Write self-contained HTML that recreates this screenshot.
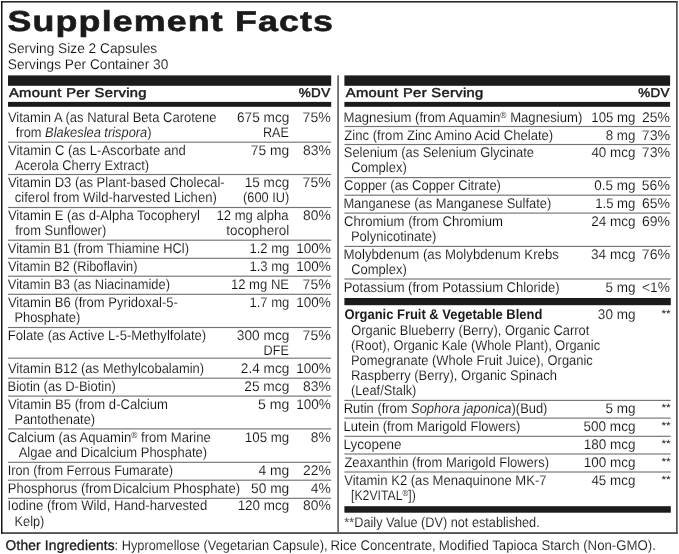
<!DOCTYPE html>
<html lang="en"><head><meta charset="utf-8"><title>Supplement Facts</title>
<style>
html,body{margin:0;padding:0;background:#fff;width:679px;height:554px;overflow:hidden;}
body{width:679px;height:554px;position:relative;overflow:hidden;font-family:"Liberation Sans",sans-serif;color:#2e2e2e;}
svg.ln{position:absolute;left:0;top:0;}
.x{position:absolute;white-space:nowrap;transform-origin:0 0;text-rendering:geometricPrecision;}
.title{font-weight:bold;font-size:28.8px;line-height:44px;height:44px;color:#1a1a1a;letter-spacing:0.9px;-webkit-text-stroke:0.6px #1a1a1a;}
.sv{font-size:14px;line-height:24px;height:24px;color:#111;-webkit-text-stroke:0.12px #fff;}
.hd{font-size:12.8px;line-height:24px;height:24px;color:#1a1a1a;-webkit-text-stroke:0.47px #1a1a1a;letter-spacing:0.3px;}
.t,.st{font-size:14px;line-height:24px;height:24px;color:#111;-webkit-text-stroke:0.12px #fff;}
.b{font-weight:bold;font-size:14px;line-height:24px;height:24px;color:#1a1a1a;}
.ob{font-size:14px;line-height:16px;height:16px;color:#1a1a1a;-webkit-text-stroke:0.33px #1a1a1a;letter-spacing:0.2px;}
.ts{letter-spacing:-2.2px;}
.tb{font-size:14px;line-height:16px;height:16px;color:#111;-webkit-text-stroke:0.12px #fff;}
sup{font-size:64%;line-height:0;vertical-align:baseline;position:relative;top:-0.42em;-webkit-text-stroke:0;color:#3a3a3a;}
.st{font-size:10.5px;-webkit-text-stroke:0;color:#222;}
</style></head>
<body>
<svg class="ln" width="679" height="554" viewBox="0 0 679 554" ><rect x="1" y="1" width="676.8" height="1.6" fill="#2a2a2a"/><rect x="1" y="532.3" width="676.8" height="1.5" fill="#2a2a2a"/><rect x="1" y="1" width="1.5" height="532.8" fill="#161616"/><rect x="676" y="1" width="1.7" height="532.8" fill="#555"/><rect x="337.3" y="75.3" width="1.6" height="457.2" fill="#5a5a5a"/><rect x="8" y="75.4" width="323.2" height="10.4" fill="#1c1c1c"/><rect x="344.4" y="75.4" width="325.7" height="10.4" fill="#1c1c1c"/><rect x="8" y="101.9" width="323.2" height="4.9" fill="#1c1c1c"/><rect x="344.4" y="101.9" width="325.7" height="4.9" fill="#1c1c1c"/><rect x="344.4" y="298" width="326.4" height="7.2" fill="#1c1c1c"/><rect x="344.4" y="506.2" width="326.4" height="6.5" fill="#1c1c1c"/><rect x="8" y="141.62" width="323.2" height="1.15" fill="#747474"/><rect x="8" y="173.93" width="323.2" height="1.15" fill="#747474"/><rect x="8" y="206.93" width="323.2" height="1.15" fill="#747474"/><rect x="8" y="239.62" width="323.2" height="1.15" fill="#747474"/><rect x="8" y="257.73" width="323.2" height="1.15" fill="#747474"/><rect x="8" y="275.62" width="323.2" height="1.15" fill="#747474"/><rect x="8" y="293.73" width="323.2" height="1.15" fill="#747474"/><rect x="8" y="326.93" width="323.2" height="1.15" fill="#747474"/><rect x="8" y="357.62" width="323.2" height="1.15" fill="#747474"/><rect x="8" y="377.62" width="323.2" height="1.15" fill="#747474"/><rect x="8" y="395.53" width="323.2" height="1.15" fill="#747474"/><rect x="8" y="428.32" width="323.2" height="1.15" fill="#747474"/><rect x="8" y="461.73" width="323.2" height="1.15" fill="#747474"/><rect x="8" y="479.62" width="323.2" height="1.15" fill="#747474"/><rect x="8" y="497.73" width="323.2" height="1.15" fill="#747474"/><rect x="344.4" y="125.92" width="326.3" height="1.15" fill="#747474"/><rect x="344.4" y="143.93" width="326.3" height="1.15" fill="#747474"/><rect x="344.4" y="177.03" width="326.3" height="1.15" fill="#747474"/><rect x="344.4" y="194.62" width="326.3" height="1.15" fill="#747474"/><rect x="344.4" y="212.53" width="326.3" height="1.15" fill="#747474"/><rect x="344.4" y="245.83" width="326.3" height="1.15" fill="#747474"/><rect x="344.4" y="278.43" width="326.3" height="1.15" fill="#747474"/><rect x="344.4" y="399.82" width="326.3" height="1.15" fill="#747474"/><rect x="344.4" y="417.53" width="326.3" height="1.15" fill="#747474"/><rect x="344.4" y="435.73" width="326.3" height="1.15" fill="#747474"/><rect x="344.4" y="453.43" width="326.3" height="1.15" fill="#747474"/><rect x="344.4" y="471.43" width="326.3" height="1.15" fill="#747474"/></svg>
<div class="x title" id="i0" style="left:7px;top:0px;transform:translateX(0.59px) scaleX(1.2443);">Supplement Facts</div>
<div class="x sv" id="i1" style="left:7px;top:36px;transform:translateX(0.82px) scaleX(0.9792);">Serving Size 2 Capsules</div>
<div class="x sv" id="i2" style="left:7px;top:52px;transform:translateX(0.82px) scaleX(0.9771);">Servings Per Container 30</div>
<div class="x hd" id="i3" style="left:8px;top:81px;transform:translateX(0.89px) scaleX(1.1507);">Amount Per Serving</div>
<div class="x hd" id="i4" style="left:298px;top:81px;transform:translateX(0.80px) scaleX(1.0532);">%DV</div>
<div class="x hd" id="i5" style="left:345px;top:81px;transform:translateX(0.78px) scaleX(1.1491);">Amount Per Serving</div>
<div class="x hd" id="i6" style="left:638px;top:81px;transform:translateX(0.16px) scaleX(1.0500);">%DV</div>
<div class="x t" id="i7" style="left:7px;top:105px;transform:translateX(0.89px) scaleX(0.9287);">Vitamin A (as Natural Beta Carotene</div>
<div class="x t" id="i8" style="left:15px;top:120px;transform:translateX(0.86px) scaleX(0.9173);">from <i>Blakeslea trispora</i>)</div>
<div class="x t" id="i9" style="left:236px;top:105px;transform:translateX(0.93px) scaleX(0.9760);">675 mcg</div>
<div class="x t" id="i10" style="left:262px;top:120px;transform:translateX(0.93px) scaleX(0.8978);">RAE</div>
<div class="x t" id="i11" style="left:302px;top:105px;transform:translateX(0.55px) scaleX(1.0067);">75%</div>
<div class="x t" id="i12" style="left:7px;top:138px;transform:translateX(0.89px) scaleX(0.9341);">Vitamin C (as L-Ascorbate and</div>
<div class="x t" id="i13" style="left:14px;top:153px;transform:translateX(0.92px) scaleX(0.9217);">Acerola Cherry Extract)</div>
<div class="x t" id="i14" style="left:250px;top:138px;transform:translateX(0.82px) scaleX(0.9879);">75 mg</div>
<div class="x t" id="i15" style="left:303px;top:138px;transform:translateX(0.08px) scaleX(0.9886);">83%</div>
<div class="x t" id="i16" style="left:7px;top:170px;transform:translateX(0.89px) scaleX(0.9294);">Vitamin D3 (as Plant-based Cholecal-</div>
<div class="x t" id="i17" style="left:14px;top:185px;transform:translateX(0.80px) scaleX(0.9338);">ciferol from Wild-harvested Lichen)</div>
<div class="x t" id="i18" style="left:244px;top:170px;transform:translateX(0.80px) scaleX(0.9668);">15 mcg</div>
<div class="x t" id="i19" style="left:243px;top:185px;transform:translateX(0.09px) scaleX(0.9119);">(600 IU)</div>
<div class="x t" id="i20" style="left:302px;top:170px;transform:translateX(0.55px) scaleX(1.0067);">75%</div>
<div class="x t" id="i21" style="left:7px;top:203px;transform:translateX(0.89px) scaleX(0.9305);">Vitamin E (as d-Alpha Tocopheryl</div>
<div class="x t" id="i22" style="left:15px;top:218px;transform:translateX(0.20px) scaleX(0.9208);">from Sunflower)</div>
<div class="x t" id="i23" style="left:216px;top:203px;transform:translateX(0.50px) scaleX(0.9344);">12 mg alpha</div>
<div class="x t" id="i24" style="left:226px;top:218px;transform:translateX(0.18px) scaleX(0.9633);">tocopherol</div>
<div class="x t" id="i25" style="left:303px;top:203px;transform:translateX(0.08px) scaleX(0.9886);">80%</div>
<div class="x t" id="i26" style="left:7px;top:236px;transform:translateX(0.81px) scaleX(0.9189);">Vitamin B1 (from Thiamine HCl)</div>
<div class="x t" id="i27" style="left:249px;top:236px;transform:translateX(0.39px) scaleX(0.9314);">1.2 mg</div>
<div class="x t" id="i28" style="left:296px;top:236px;transform:translateX(0.27px) scaleX(0.9653);">100%</div>
<div class="x t" id="i29" style="left:8px;top:254px;transform:translateX(0.11px) scaleX(0.9097);">Vitamin B2 (Riboflavin)</div>
<div class="x t" id="i30" style="left:249px;top:254px;transform:translateX(0.39px) scaleX(0.9314);">1.3 mg</div>
<div class="x t" id="i31" style="left:296px;top:254px;transform:translateX(0.27px) scaleX(0.9653);">100%</div>
<div class="x t" id="i32" style="left:7px;top:272px;transform:translateX(0.81px) scaleX(0.9193);">Vitamin B3 (as Niacinamide)</div>
<div class="x t" id="i33" style="left:230px;top:272px;transform:translateX(0.95px) scaleX(0.9334);">12 mg NE</div>
<div class="x t" id="i34" style="left:302px;top:272px;transform:translateX(0.55px) scaleX(1.0067);">75%</div>
<div class="x t" id="i35" style="left:7px;top:290px;transform:translateX(0.89px) scaleX(0.9311);">Vitamin B6 (from Pyridoxal-5-</div>
<div class="x t" id="i36" style="left:14px;top:305px;transform:translateX(0.38px) scaleX(0.9211);">Phosphate)</div>
<div class="x t" id="i37" style="left:249px;top:290px;transform:translateX(0.39px) scaleX(0.9314);">1.7 mg</div>
<div class="x t" id="i38" style="left:296px;top:290px;transform:translateX(0.27px) scaleX(0.9653);">100%</div>
<div class="x t" id="i39" style="left:7px;top:323px;transform:translateX(0.72px) scaleX(0.9342);">Folate (as Active L-5-Methylfolate)</div>
<div class="x t" id="i40" style="left:236px;top:323px;transform:translateX(0.86px) scaleX(0.9772);">300 mcg</div>
<div class="x t" id="i41" style="left:263px;top:338px;transform:translateX(0.61px) scaleX(0.9012);">DFE</div>
<div class="x t" id="i42" style="left:302px;top:323px;transform:translateX(0.55px) scaleX(1.0067);">75%</div>
<div class="x t" id="i43" style="left:7px;top:356px;transform:translateX(0.89px) scaleX(0.9248);">Vitamin B12 (as Methylcobalamin)</div>
<div class="x t" id="i44" style="left:240px;top:356px;transform:translateX(0.87px) scaleX(0.9713);">2.4 mcg</div>
<div class="x t" id="i45" style="left:296px;top:356px;transform:translateX(0.27px) scaleX(0.9653);">100%</div>
<div class="x t" id="i46" style="left:7px;top:374px;transform:translateX(0.53px) scaleX(0.9270);">Biotin (as D-Biotin)</div>
<div class="x t" id="i47" style="left:244px;top:374px;transform:translateX(0.29px) scaleX(0.9798);">25 mcg</div>
<div class="x t" id="i48" style="left:303px;top:374px;transform:translateX(0.08px) scaleX(0.9886);">83%</div>
<div class="x t" id="i49" style="left:7px;top:392px;transform:translateX(0.89px) scaleX(0.9360);">Vitamin B5 (from d-Calcium</div>
<div class="x t" id="i50" style="left:14px;top:407px;transform:translateX(0.40px) scaleX(0.9176);">Pantothenate)</div>
<div class="x t" id="i51" style="left:257px;top:392px;transform:translateX(0.88px) scaleX(1.0071);">5 mg</div>
<div class="x t" id="i52" style="left:296px;top:392px;transform:translateX(0.27px) scaleX(0.9653);">100%</div>
<div class="x t" id="i53" style="left:7px;top:425px;transform:translateX(0.65px) scaleX(0.9339);">Calcium (as Aquamin<sup>&reg;</sup> from Marine</div>
<div class="x t" id="i54" style="left:18px;top:440px;transform:translateX(0.70px) scaleX(0.9279);">Algae and Dicalcium Phosphate)</div>
<div class="x t" id="i55" style="left:244px;top:425px;transform:translateX(0.86px) scaleX(0.9498);">105 mg</div>
<div class="x t" id="i56" style="left:310px;top:425px;transform:translateX(0.72px) scaleX(0.9857);">8%</div>
<div class="x t" id="i57" style="left:7px;top:458px;transform:translateX(0.68px) scaleX(0.9124);">Iron (from Ferrous Fumarate)</div>
<div class="x t" id="i58" style="left:258px;top:458px;transform:translateX(0.43px) scaleX(0.9915);">4 mg</div>
<div class="x t" id="i59" style="left:303px;top:458px;transform:translateX(0.12px) scaleX(0.9844);">22%</div>
<div class="x t" id="i60" style="left:7px;top:476px;transform:translateX(0.73px) scaleX(0.9322);">Phosphorus (from<span class="ts"> </span>Dicalcium Phosphate)</div>
<div class="x t" id="i61" style="left:251px;top:476px;transform:translateX(0.02px) scaleX(0.9828);">50 mg</div>
<div class="x t" id="i62" style="left:310px;top:476px;transform:translateX(0.86px) scaleX(0.9873);">4%</div>
<div class="x t" id="i63" style="left:7px;top:493px;transform:translateX(0.61px) scaleX(0.9361);">Iodine (from Wild, Hand-harvested</div>
<div class="x t" id="i64" style="left:14px;top:509px;transform:translateX(0.59px) scaleX(0.9097);">Kelp)</div>
<div class="x t" id="i65" style="left:237px;top:493px;transform:translateX(0.65px) scaleX(0.9583);">120 mcg</div>
<div class="x t" id="i66" style="left:303px;top:493px;transform:translateX(0.08px) scaleX(0.9886);">80%</div>
<div class="x t" id="i67" style="left:343px;top:105px;transform:translateX(0.62px) scaleX(0.9365);">Magnesium (from Aquamin<sup>&reg;</sup> Magnesium)</div>
<div class="x t" id="i68" style="left:591px;top:105px;transform:translateX(0.35px) scaleX(0.9436);">105 mg</div>
<div class="x t" id="i69" style="left:642px;top:105px;transform:translateX(0.10px) scaleX(0.9965);">25%</div>
<div class="x t" id="i70" style="left:344px;top:123px;transform:translateX(0.37px) scaleX(0.9353);">Zinc (from Zinc Amino Acid Chelate)</div>
<div class="x t" id="i71" style="left:605px;top:123px;transform:translateX(0.65px) scaleX(0.9529);">8 mg</div>
<div class="x t" id="i72" style="left:641px;top:123px;transform:translateX(0.83px) scaleX(1.0120);">73%</div>
<div class="x t" id="i73" style="left:343px;top:140px;transform:translateX(0.81px) scaleX(0.9224);">Selenium (as Selenium Glycinate</div>
<div class="x t" id="i74" style="left:351px;top:155px;transform:translateX(0.15px) scaleX(0.9284);">Complex)</div>
<div class="x t" id="i75" style="left:591px;top:140px;transform:translateX(0.39px) scaleX(0.9584);">40 mcg</div>
<div class="x t" id="i76" style="left:641px;top:140px;transform:translateX(0.83px) scaleX(1.0120);">73%</div>
<div class="x t" id="i77" style="left:344px;top:173px;transform:translateX(0.01px) scaleX(0.9295);">Copper (as Copper Citrate)</div>
<div class="x t" id="i78" style="left:594px;top:173px;transform:translateX(0.13px) scaleX(0.9648);">0.5 mg</div>
<div class="x t" id="i79" style="left:641px;top:173px;transform:translateX(0.79px) scaleX(1.0010);">56%</div>
<div class="x t" id="i80" style="left:343px;top:191px;transform:translateX(0.38px) scaleX(0.9207);">Manganese (as Manganese Sulfate)</div>
<div class="x t" id="i81" style="left:595px;top:191px;transform:translateX(0.15px) scaleX(0.9402);">1.5 mg</div>
<div class="x t" id="i82" style="left:642px;top:191px;transform:translateX(0.04px) scaleX(0.9982);">65%</div>
<div class="x t" id="i83" style="left:343px;top:209px;transform:translateX(0.99px) scaleX(0.9372);">Chromium (from Chromium</div>
<div class="x t" id="i84" style="left:350px;top:224px;transform:translateX(0.91px) scaleX(0.9310);">Polynicotinate)</div>
<div class="x t" id="i85" style="left:591px;top:209px;transform:translateX(0.15px) scaleX(0.9665);">24 mcg</div>
<div class="x t" id="i86" style="left:642px;top:209px;transform:translateX(0.04px) scaleX(0.9982);">69%</div>
<div class="x t" id="i87" style="left:343px;top:242px;transform:translateX(0.61px) scaleX(0.9441);">Molybdenum (as Molybdenum Krebs</div>
<div class="x t" id="i88" style="left:351px;top:257px;transform:translateX(0.15px) scaleX(0.9284);">Complex)</div>
<div class="x t" id="i89" style="left:591px;top:242px;transform:translateX(0.09px) scaleX(0.9664);">34 mcg</div>
<div class="x t" id="i90" style="left:641px;top:242px;transform:translateX(0.83px) scaleX(1.0120);">76%</div>
<div class="x t" id="i91" style="left:343px;top:275px;transform:translateX(0.64px) scaleX(0.9310);">Potassium (from Potassium Chloride)</div>
<div class="x t" id="i92" style="left:605px;top:275px;transform:translateX(0.41px) scaleX(0.9654);">5 mg</div>
<div class="x t" id="i93" style="left:642px;top:275px;transform:translateX(0.05px) scaleX(0.9781);">&lt;1%</div>
<div class="x b" id="i94" style="left:344px;top:302px;transform:translateX(0.46px) scaleX(0.9249);">Organic Fruit &amp; Vegetable Blend</div>
<div class="x t" id="i95" style="left:351px;top:318px;transform:translateX(0.25px) scaleX(0.9189);">Organic Blueberry (Berry), Organic Carrot</div>
<div class="x t" id="i96" style="left:351px;top:333px;transform:translateX(0.01px) scaleX(0.9118);">(Root), Organic Kale (Whole Plant), Organic</div>
<div class="x t" id="i97" style="left:350px;top:348px;transform:translateX(0.92px) scaleX(0.9223);">Pomegranate (Whole Fruit Juice), Organic</div>
<div class="x t" id="i98" style="left:350px;top:363px;transform:translateX(0.92px) scaleX(0.9255);">Raspberry (Berry), Organic Spinach</div>
<div class="x t" id="i99" style="left:351px;top:378px;transform:translateX(0.01px) scaleX(0.9129);">(Leaf/Stalk)</div>
<div class="x t" id="i100" style="left:597px;top:302px;transform:translateX(0.86px) scaleX(0.9663);">30 mg</div>
<div class="x st" id="i101" style="left:661px;top:302px;transform:translateX(0.38px) scaleX(1.1348);">**</div>
<div class="x t" id="i102" style="left:343px;top:396px;transform:translateX(0.67px) scaleX(0.9218);">Rutin (from <i>Sophora japonica</i>)(Bud)</div>
<div class="x t" id="i103" style="left:605px;top:396px;transform:translateX(0.41px) scaleX(0.9654);">5 mg</div>
<div class="x st" id="i104" style="left:661px;top:396px;transform:translateX(0.38px) scaleX(1.1348);">**</div>
<div class="x t" id="i105" style="left:343px;top:414px;transform:translateX(0.62px) scaleX(0.9313);">Lutein (from Marigold Flowers)</div>
<div class="x t" id="i106" style="left:583px;top:414px;transform:translateX(0.43px) scaleX(0.9694);">500 mcg</div>
<div class="x st" id="i107" style="left:661px;top:414px;transform:translateX(0.38px) scaleX(1.1348);">**</div>
<div class="x t" id="i108" style="left:343px;top:432px;transform:translateX(0.54px) scaleX(0.9641);">Lycopene</div>
<div class="x t" id="i109" style="left:583px;top:432px;transform:translateX(0.83px) scaleX(0.9630);">180 mcg</div>
<div class="x st" id="i110" style="left:661px;top:432px;transform:translateX(0.38px) scaleX(1.1348);">**</div>
<div class="x t" id="i111" style="left:344px;top:450px;transform:translateX(0.38px) scaleX(0.9258);">Zeaxanthin (from Marigold Flowers)</div>
<div class="x t" id="i112" style="left:583px;top:450px;transform:translateX(0.83px) scaleX(0.9630);">100 mcg</div>
<div class="x st" id="i113" style="left:661px;top:450px;transform:translateX(0.38px) scaleX(1.1348);">**</div>
<div class="x t" id="i114" style="left:344px;top:468px;transform:translateX(0.22px) scaleX(0.9330);">Vitamin K2 (as Menaquinone MK-7</div>
<div class="x t" id="i115" style="left:351px;top:483px;transform:translateX(0.02px) scaleX(0.8745);">[K2VITAL<sup>&reg;</sup>])</div>
<div class="x t" id="i116" style="left:591px;top:468px;transform:translateX(0.39px) scaleX(0.9584);">45 mcg</div>
<div class="x st" id="i117" style="left:661px;top:468px;transform:translateX(0.38px) scaleX(1.1348);">**</div>
<div class="x t" id="i118" style="left:344px;top:510px;transform:translateX(0.37px) scaleX(0.9073);">**Daily Value (DV) not established.</div>
<div class="x ob" id="i119" style="left:5px;top:537px;transform:translateX(0.62px) scaleX(0.9787);">Other Ingredients</div>
<div class="x tb" id="i120" style="left:114px;top:537px;transform:translateX(0.54px) scaleX(0.9153);">: Hypromellose (Vegetarian Capsule),</div>
<div class="x tb" id="i121" style="left:330px;top:537px;transform:translateX(0.53px) scaleX(0.9392);">Rice Concentrate,</div>
<div class="x tb" id="i122" style="left:438px;top:537px;transform:translateX(0.83px) scaleX(0.9434);">Modified Tapioca Starch (Non-GMO).</div>
</body></html>
